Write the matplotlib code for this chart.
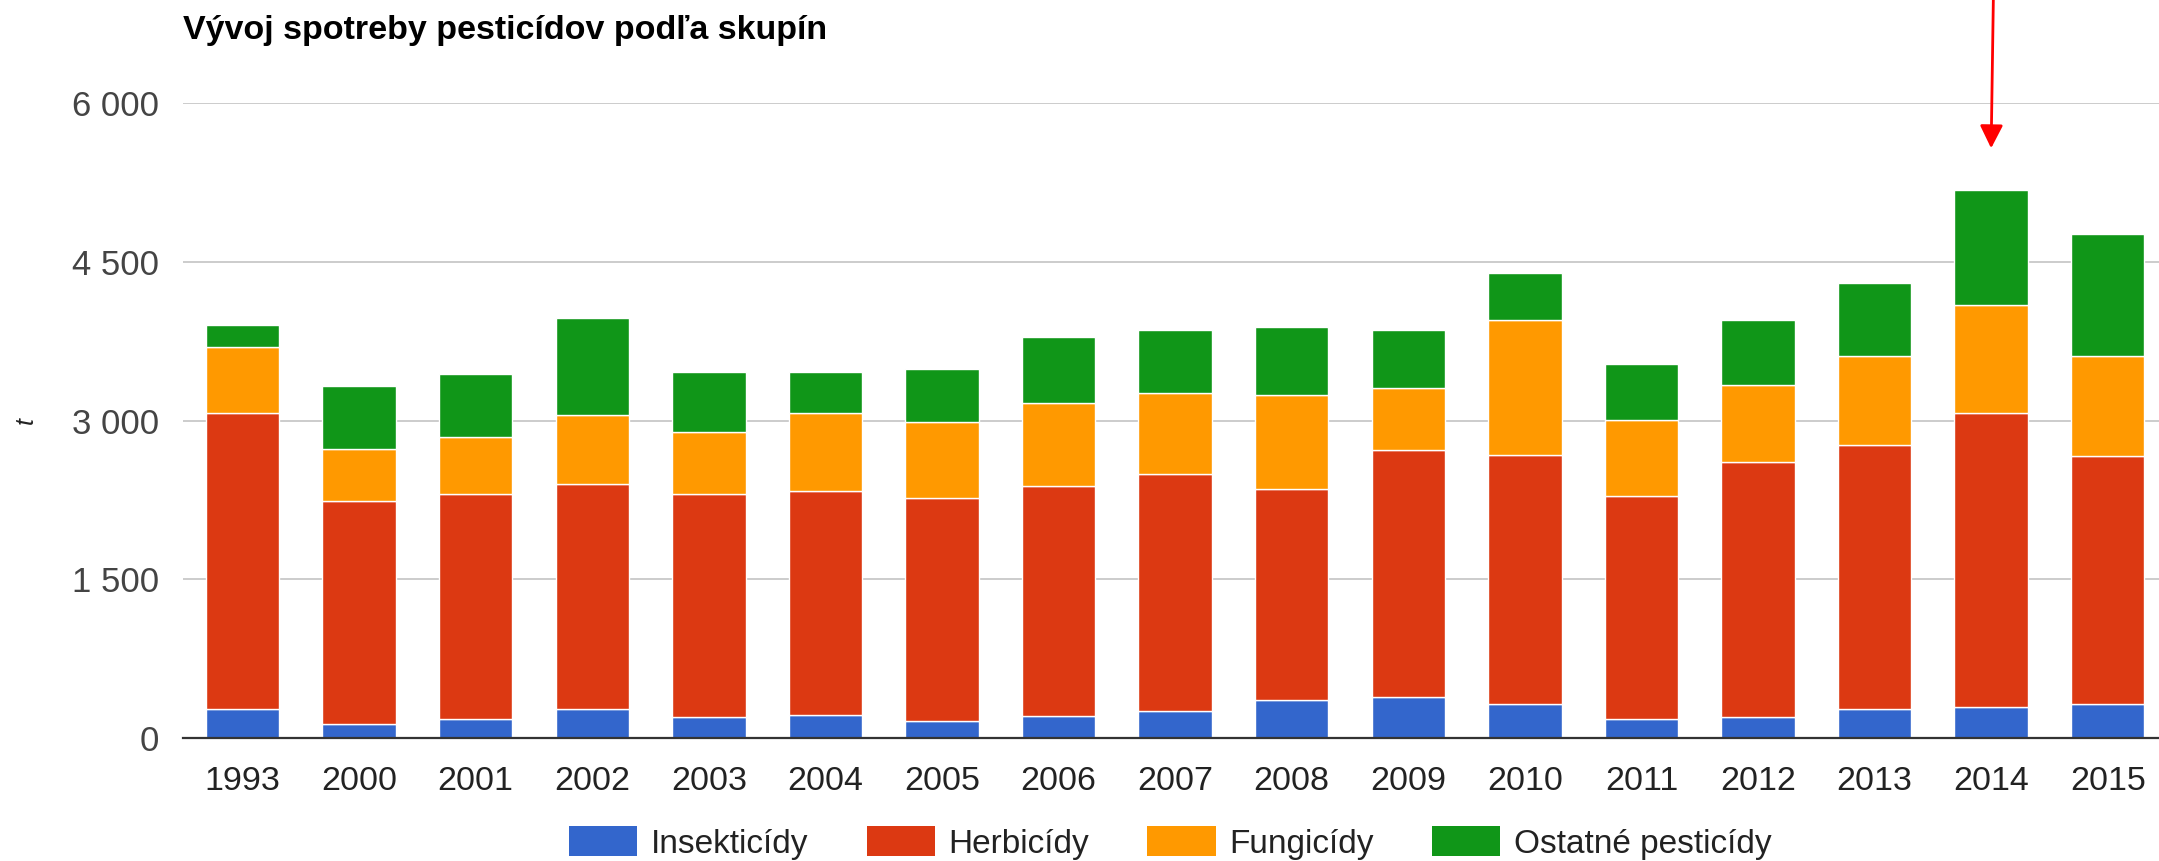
import numpy as np
import matplotlib.pyplot as plt
from matplotlib.ticker import FuncFormatter
from matplotlib.patches import Patch

plt.rcParams['font.family'] = ['Liberation Sans', 'DejaVu Sans']

roky = ['1993', '2000', '2001', '2002', '2003', '2004', '2005', '2006', '2007',
        '2008', '2009', '2010', '2011', '2012', '2013', '2014', '2015']
insekticidy = [274, 132, 180, 274, 202, 221, 161, 205, 252, 362, 384, 318, 176, 202, 271, 293, 318]
herbicidy = [2798, 2105, 2130, 2130, 2108, 2114, 2108, 2180, 2247, 1995, 2342, 2360, 2108, 2410, 2502, 2782, 2345]
fungicidy = [627, 492, 532, 649, 583, 740, 721, 785, 762, 882, 579, 1276, 722, 722, 835, 1018, 945]
ostatne = [202, 595, 596, 920, 570, 388, 498, 618, 599, 643, 552, 439, 526, 614, 690, 1088, 1156]

nazvy = ['Insekticídy', 'Herbicídy', 'Fungicídy', 'Ostatné pesticídy']
farby = ['#3366cc', '#dc3912', '#ff9900', '#109618']
y_ticky = [0, 1500, 3000, 4500, 6000]
zvyrazneny_rok = '2014'

fig = plt.figure(figsize=(21.59, 8.61), dpi=100)
ax = fig.add_axes([0.0848, 0.1429, 1 - 0.0848, 0.880 - 0.1429])

x = np.arange(len(roky))
spodok = np.zeros(len(roky))
for hodnoty, farba in zip([insekticidy, herbicidy, fungicidy, ostatne], farby):
    ax.bar(x, hodnoty, width=0.63, bottom=spodok, color=farba,
           edgecolor='white', linewidth=1.0, zorder=3)
    spodok = spodok + np.array(hodnoty)

ax.set_xlim(-0.51, 16.44)
ax.set_ylim(0, 6000)
ax.set_yticks(y_ticky)
ax.yaxis.set_major_formatter(FuncFormatter(lambda v, p: f'{int(v):,}'.replace(',', ' ')))
ax.set_xticks(x)
ax.set_xticklabels(roky)
ax.grid(axis='y', color='#cccccc', linewidth=1.4, zorder=0)
ax.tick_params(axis='y', length=0, pad=17, labelsize=25, labelcolor='#444444')
ax.tick_params(axis='x', length=0, pad=20, labelsize=24.5, labelcolor='#222222')
for s in ax.spines.values():
    s.set_visible(False)
ax.axhline(0, color='#333333', linewidth=1.6, zorder=4, clip_on=False)

fig.text(183 / 2159, 1 - 30 / 861, 'Vývoj spotreby pesticídov podľa skupín',
         fontsize=24.5, fontweight='bold', va='center', ha='left', color='#000000')
fig.text(0.012, 0.512, 't', rotation=90, style='italic', fontsize=18,
         va='center', ha='center', color='#222222')

handles = [Patch(facecolor=f, edgecolor='none') for f in farby]
fig.legend(handles, nazvy, loc='center', bbox_to_anchor=(0.542, 0.021), ncol=4,
           frameon=False, fontsize=24, handlelength=2.05, handleheight=1.0,
           handletextpad=0.4, columnspacing=1.75, labelcolor='#222222')

# cervena sipka nad rokom 2014
i = roky.index(zvyrazneny_rok)
ax.annotate('', xy=(i, 5575), xycoords='data',
            xytext=(i + 0.02, 1.01), textcoords=('data', 'figure fraction'),
            arrowprops=dict(arrowstyle='-|>,head_length=1.0,head_width=0.5',
                            color='#ff0000', lw=2.0, mutation_scale=14,
                            shrinkA=0, shrinkB=0),
            annotation_clip=False)

fig.savefig('out.png', dpi=100)
